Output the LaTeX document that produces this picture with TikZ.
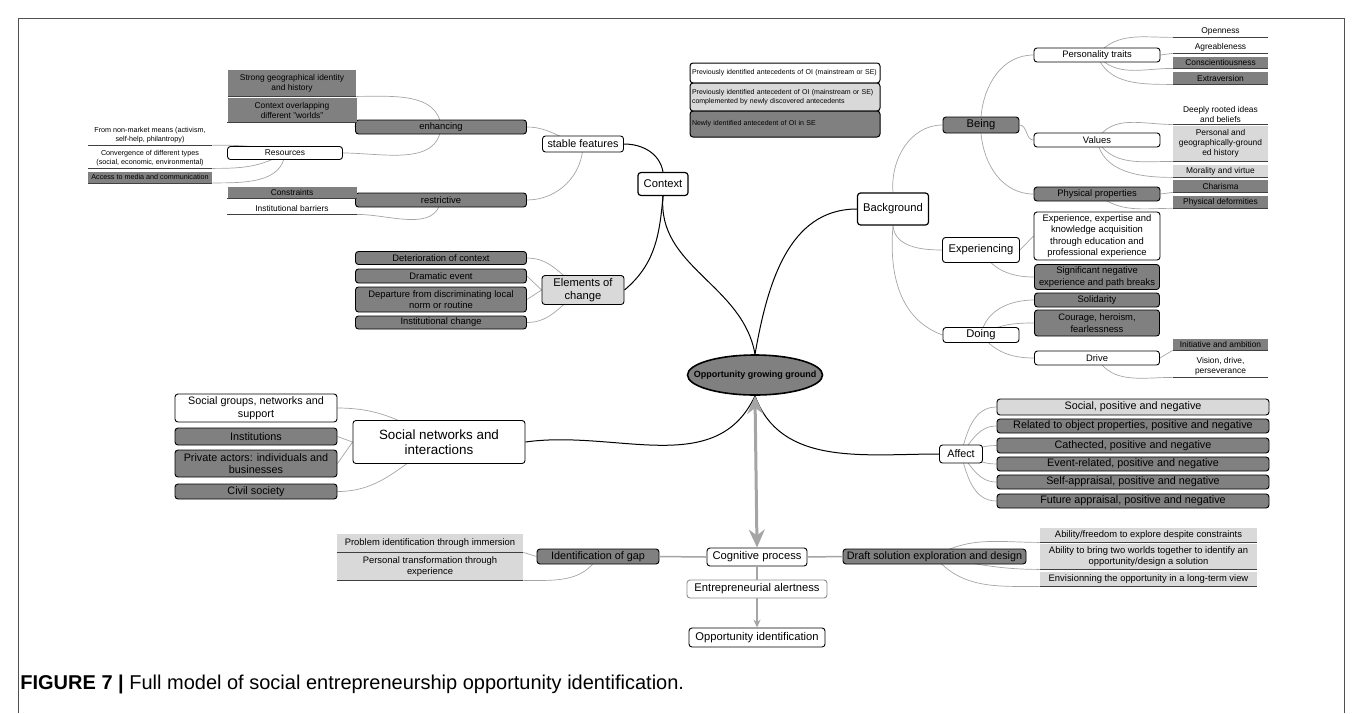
\documentclass[tikz,border=0pt]{standalone}
\usepackage{fontspec}
\setmainfont{Liberation Sans}
\usetikzlibrary{arrows.meta,shapes.geometric,backgrounds}
\definecolor{darkfill}{RGB}{128,128,128}
\definecolor{lightfill}{RGB}{217,217,217}
\definecolor{wire}{RGB}{165,165,165}
\definecolor{framegray}{RGB}{80,80,80}

\begin{document}
\begin{tikzpicture}[x=0.5pt,y=0.5pt,
  sized/.style 2 args={minimum width=#1*0.5pt,minimum height=#2*0.5pt},
  fH/.style={font=\fontsize{6.7}{7.6}\selectfont},
  fA/.style={font=\fontsize{5.6}{6.4}\selectfont},
  fB/.style={font=\fontsize{5.4}{6.2}\selectfont},
  fC/.style={font=\fontsize{4.7}{5.8}\selectfont},
  fD/.style={font=\fontsize{4.2}{5}\selectfont},
  fE/.style={font=\fontsize{3.6}{4.4}\selectfont},
  fL/.style={font=\fontsize{3.5}{4.3}\selectfont},
  hub/.style={draw=black,rounded corners=1.5pt,fill=white,align=center,inner sep=1pt,line width=0.45pt},
  hubdk/.style={hub,fill=darkfill},
  hublt/.style={hub,fill=lightfill},
  uline/.style={draw=black!75,line width=0.35pt},
  leaf/.style={rectangle,inner sep=1pt,align=center,
    append after command={(\tikzlastnode.south west) edge[uline] (\tikzlastnode.south east)}},
  leafdk/.style={leaf,fill=darkfill},
  leaflt/.style={leaf,fill=lightfill},
  key/.style={hub,align=left,text width=93pt,fL,line width=0.5pt},
  link/.style={draw=wire,line width=0.35pt},
  main/.style={draw=black,line width=0.5pt},
  flow/.style={draw=wire,line width=0.75pt},
  biarr/.style={{Stealth[length=9pt,width=8pt]}-{Stealth[length=9pt,width=8pt]},draw=wire,line width=1.5pt}]
  \useasboundingbox (0,0) rectangle (1358,-713);
  \draw[framegray,line width=0.4pt] (18,-713) |- (1344,-18) -- (1344,-713);

  % legend
  \node[key,sized={190}{20}] (lgA) at (785,-73) {Previously identified antecedents of OI (mainstream or SE)};
  \node[key,fill=lightfill,sized={190}{28}] (lgB) at (785,-97) {Previously identified antecedent of OI (mainstream or SE)\\complemented by newly discovered antecedents};
  \node[key,fill=darkfill,sized={190}{26}] (lgC) at (785,-124) {Newly identified antecedent of OI in SE};

  % centre
  \node[ellipse,draw=black,line width=0.8pt,fill=darkfill,sized={135}{40},inner xsep=-7pt,inner ysep=0pt,font=\bfseries\fontsize{4.5}{5.2}\selectfont] (ogg) at (755,-375) {Opportunity growing ground};

  % context
  \node[hub,fA,sized={50}{23},line width=0.6pt] (ctx) at (663,-184) {Context};
  \node[hub,fB,sized={81}{16}] (sf) at (583,-144) {stable features};
  \node[hubdk,fC,sized={171}{14}] (enh) at (441,-127) {enhancing};
  \node[hubdk,fC,sized={171}{14}] (rst) at (441,-200) {restrictive};
  \node[leafdk,fD,sized={128}{26}] (sgi) at (292,-83) {Strong geographical identity\\and history};
  \node[leafdk,fD,sized={129}{24}] (cow) at (292,-110) {Context overlapping\\different "worlds"};
  \node[hub,fD,sized={115}{13}] (res) at (285,-153) {Resources};
  \node[leaf,fE,sized={124}{18}] (nmm) at (150,-135) {From non-market means (activism,\\self-help, philantropy)};
  \node[leaf,fE,sized={124}{20}] (cdt) at (150,-158) {Convergence of different types\\(social, economic, environmental)};
  \node[leafdk,fE,sized={124}{11}] (amc) at (150,-177) {Access to media and communication};
  \node[leafdk,fD,sized={129}{11}] (cns) at (292,-192.5) {Constraints};
  \node[leaf,fD,sized={129}{12}] (ibr) at (292,-208) {Institutional barriers};
  \node[hublt,fA,sized={82}{29}] (eoc) at (583,-290) {Elements of\\change};
  \node[hubdk,fC,sized={171}{13}] (dtc) at (441,-258) {Deterioration of context};
  \node[hubdk,fC,sized={171}{14}] (dev) at (441,-276) {Dramatic event};
  \node[hubdk,fC,sized={171}{25}] (dpt) at (441,-299.5) {Departure from discriminating local\\norm or routine};
  \node[hubdk,fC,sized={171}{13}] (ich) at (441,-322.5) {Institutional change};

  % background
  \node[hub,fA,sized={71}{32},line width=0.6pt] (bgd) at (893,-209) {Background};
  \node[hubdk,fA,sized={76}{16}] (bei) at (981,-125) {Being};
  \node[hub,fC,sized={126}{14}] (pst) at (1097,-55) {Personality traits};
  \node[hub,fC,sized={126}{14}] (val) at (1097,-140) {Values};
  \node[hubdk,fC,sized={126}{14}] (php) at (1097,-194) {Physical properties};
  \node[leaf,fD,sized={95}{12}] (opn) at (1220.5,-31) {Openness};
  \node[leaf,fD,sized={95}{12}] (agr) at (1220.5,-47) {Agreableness};
  \node[leafdk,fD,sized={95}{11}] (csc) at (1220.5,-62.5) {Conscientiousness};
  \node[leafdk,fD,sized={95}{12}] (exv) at (1220.5,-78) {Extraversion};
  \node[leaf,fD,sized={95}{20}] (dri) at (1220.5,-114) {Deeply rooted ideas\\and beliefs};
  \node[leaflt,fD,sized={95}{35}] (pgh) at (1220.5,-143.5) {Personal and\\geographically-ground\\ed history};
  \node[leaflt,fD,sized={95}{12}] (mor) at (1220.5,-171) {Morality and virtue};
  \node[leafdk,fD,sized={95}{12}] (cha) at (1220.5,-186) {Charisma};
  \node[leafdk,fD,sized={95}{11}] (pdf) at (1220.5,-202) {Physical deformities};
  \node[hub,fA,sized={77}{25}] (exg) at (981,-250) {Experiencing};
  \node[hub,fC,sized={126}{48}] (eek) at (1097,-236) {Experience, expertise and\\knowledge acquisition\\through education and\\professional experience};
  \node[hubdk,fC,sized={125}{25}] (sne) at (1097,-277) {Significant negative\\experience and path breaks};
  \node[hub,fA,sized={76}{15}] (doi) at (981,-335) {Doing};
  \node[hubdk,fC,sized={125}{14}] (sol) at (1097,-300) {Solidarity};
  \node[hubdk,fC,sized={125}{26}] (chf) at (1097,-323) {Courage, heroism,\\fearlessness};
  \node[hub,fC,sized={125}{14}] (drv) at (1097,-358) {Drive};
  \node[leafdk,fD,sized={95}{11}] (ina) at (1220.5,-344.5) {Initiative and ambition};
  \node[leaf,fD,sized={95}{22}] (vdp) at (1220.5,-366) {Vision, drive,\\perseverance};

  % social networks
  \node[hub,fH,sized={172}{43}] (sni) at (439,-442) {Social networks and\\interactions};
  \node[hub,fB,sized={162}{28}] (sgn) at (256,-408) {Social groups, networks and\\support};
  \node[hubdk,fB,sized={162}{17}] (ins) at (256,-436.5) {Institutions};
  \node[hubdk,fB,sized={162}{27}] (pab) at (256,-463.5) {Private actors: individuals and\\businesses};
  \node[hubdk,fB,sized={162}{15}] (cvs) at (256,-491.5) {Civil society};

  % affect
  \node[hub,fB,sized={43}{18}] (aff) at (961,-454) {Affect};
  \node[hublt,fB,sized={272}{16}] (af1) at (1133,-407) {Social, positive and negative};
  \node[hubdk,fB,sized={272}{14}] (af2) at (1133,-426) {Related to object properties, positive and negative};
  \node[hubdk,fB,sized={272}{15}] (af3) at (1133,-445.5) {Cathected, positive and negative};
  \node[hubdk,fB,sized={272}{14}] (af4) at (1133,-464) {Event-related, positive and negative};
  \node[hubdk,fB,sized={272}{14}] (af5) at (1133,-482) {Self-appraisal, positive and negative};
  \node[hubdk,fB,sized={272}{14}] (af6) at (1133,-501) {Future appraisal, positive and negative};

  % cognitive process
  \node[hub,fA,sized={100}{18}] (cog) at (757,-557) {Cognitive process};
  \node[hubdk,fB,sized={122}{15}] (gap) at (598,-556.5) {Identification of gap};
  \node[leaflt,fC,sized={186}{18}] (pim) at (430,-543) {Problem identification through immersion};
  \node[leaflt,fC,sized={186}{27}] (ptt) at (430,-566.5) {Personal transformation through\\experience};
  \node[hub,fA,draw=black!45,sized={140}{18}] (eal) at (757,-589) {Entrepreneurial alertness};
  \node[hub,fA,sized={136}{19}] (oid) at (757,-637.5) {Opportunity identification};
  \node[hubdk,fB,sized={183}{15}] (dse) at (934.5,-556.5) {Draft solution exploration and design};
  \node[leaflt,fC,sized={217}{14}] (ds1) at (1148.5,-535) {Ability/freedom to explore despite constraints};
  \node[leaflt,fC,sized={217}{25}] (ds2) at (1148.5,-556.5) {Ability to bring two worlds together to identify an\\opportunity/design a solution};
  \node[leaflt,fC,sized={217}{14}] (ds3) at (1148.5,-579) {Envisionning the opportunity in a long-term view};

  \node[anchor=base west,inner sep=0pt,font=\fontsize{10}{12}\selectfont] (cap) at (20,-689) {\textbf{FIGURE 7 |} Full model of social entrepreneurship opportunity identification.};

  \begin{scope}[on background layer]
    % context branch
    \draw[main] (ctx.south) to[out=-95,in=100] (ogg.north);
    \draw[main] (ctx.north) to[out=100,in=0] (sf.east);
    \draw[main] (ctx.south) to[out=-95,in=40] (eoc.east);
    \draw[link] (enh.east) to[out=0,in=170] (sf.center);
    \draw[link] (sf.center) to[out=-90,in=0] (rst.east);
    \draw[link] (enh.center) to[out=95,in=0] (sgi.south east);
    \draw[link] (enh.west) to[out=180,in=0] (cow.south east);
    \draw[link] (enh.center) to[out=-95,in=0] (res.east);
    \draw[link] (res.center) to[out=165,in=0] (nmm.south east);
    \draw[link] (res.center) to[out=-150,in=0] (cdt.south east);
    \draw[link] (res.center) to[out=-95,in=0] (amc.south east);
    \draw[link] (rst.west) -- (cns.south east);
    \draw[link] (rst.center) to[out=-100,in=0] (ibr.south east);
    \draw[link] (eoc.center) to[out=150,in=0] (dtc.east);
    \draw[link] (eoc.west) -- (dev.east);
    \draw[link] (eoc.west) -- (dpt.east);
    \draw[link] (eoc.center) to[out=-150,in=0] (ich.east);
    % background branch
    \draw[main] (ogg.north) to[out=80,in=180] (bgd.west);
    \draw[link] (bgd.north) to[out=95,in=180] (bei.west);
    \draw[link] (bgd.south) to[out=-85,in=180] (exg.west);
    \draw[link] (bgd.south) to[out=-95,in=160] (doi.west);
    \draw[link] (bei.north) to[out=85,in=180] (pst.west);
    \draw[link] (bei.east) to[out=0,in=180] (val.west);
    \draw[link] (bei.south) to[out=-85,in=180] (php.west);
    \draw[link] (pst.center) to[out=50,in=180] (opn.south west);
    \draw[link] (pst.east) -- (agr.south west);
    \draw[link] (pst.center) to[out=-50,in=180] (csc.south west);
    \draw[link] (pst.center) to[out=-70,in=180] (exv.south west);
    \draw[link] (val.center) to[out=60,in=180] (dri.south west);
    \draw[link] (val.center) to[out=-60,in=180] (pgh.south west);
    \draw[link] (val.center) to[out=-80,in=180] (mor.south west);
    \draw[link] (php.east) -- (cha.south west);
    \draw[link] (php.center) to[out=-40,in=180] (pdf.south west);
    \draw[link] (exg.east) -- (eek.west);
    \draw[link] (exg.center) to[out=-60,in=180] (sne.west);
    \draw[link] (doi.center) to[out=80,in=180] (sol.west);
    \draw[link] (doi.center) to[out=30,in=180] (chf.west);
    \draw[link] (doi.center) to[out=-50,in=180] (drv.west);
    \draw[link] (drv.east) -- (ina.south west);
    \draw[link] (drv.center) to[out=-60,in=180] (vdp.south west);
    % social networks branch
    \draw[main] (sni.east) to[out=8,in=-115] (ogg.south);
    \draw[link] (sni.center) to[out=150,in=0] (sgn.east);
    \draw[link] (sni.west) -- (ins.east);
    \draw[link] (sni.west) -- (pab.east);
    \draw[link] (sni.center) to[out=-150,in=0] (cvs.east);
    % affect branch
    \draw[main] (ogg.south) to[out=-70,in=180] (aff.west);
    \draw[link] (aff.center) to[out=75,in=180] (af1.west);
    \draw[link] (aff.center) to[out=50,in=180] (af2.west);
    \draw[link] (aff.center) to[out=20,in=180] (af3.west);
    \draw[link] (aff.center) to[out=-20,in=180] (af4.west);
    \draw[link] (aff.center) to[out=-50,in=180] (af5.west);
    \draw[link] (aff.center) to[out=-75,in=180] (af6.west);
    % cognitive branch
    \draw[link] (gap.west) -- (pim.south east);
    \draw[link] (gap.center) to[out=-120,in=0] (ptt.south east);
    \draw[link] (dse.center) to[out=30,in=180] (ds1.south west);
    \draw[link] (dse.center) to[out=-10,in=180] (ds2.south west);
    \draw[link] (dse.center) to[out=-50,in=180] (ds3.south west);
  \end{scope}

  \draw[biarr] (ogg.south) -- (cog.north);
  \draw[flow] (gap.east) -- (cog.west);
  \draw[flow] (cog.east) -- (dse.west);
  \draw[flow] (cog.south) -- (eal.north);
  \draw[flow,-{Stealth[length=4pt,width=3.5pt]}] (eal.south) -- (oid.north);
\end{tikzpicture}
\end{document}
